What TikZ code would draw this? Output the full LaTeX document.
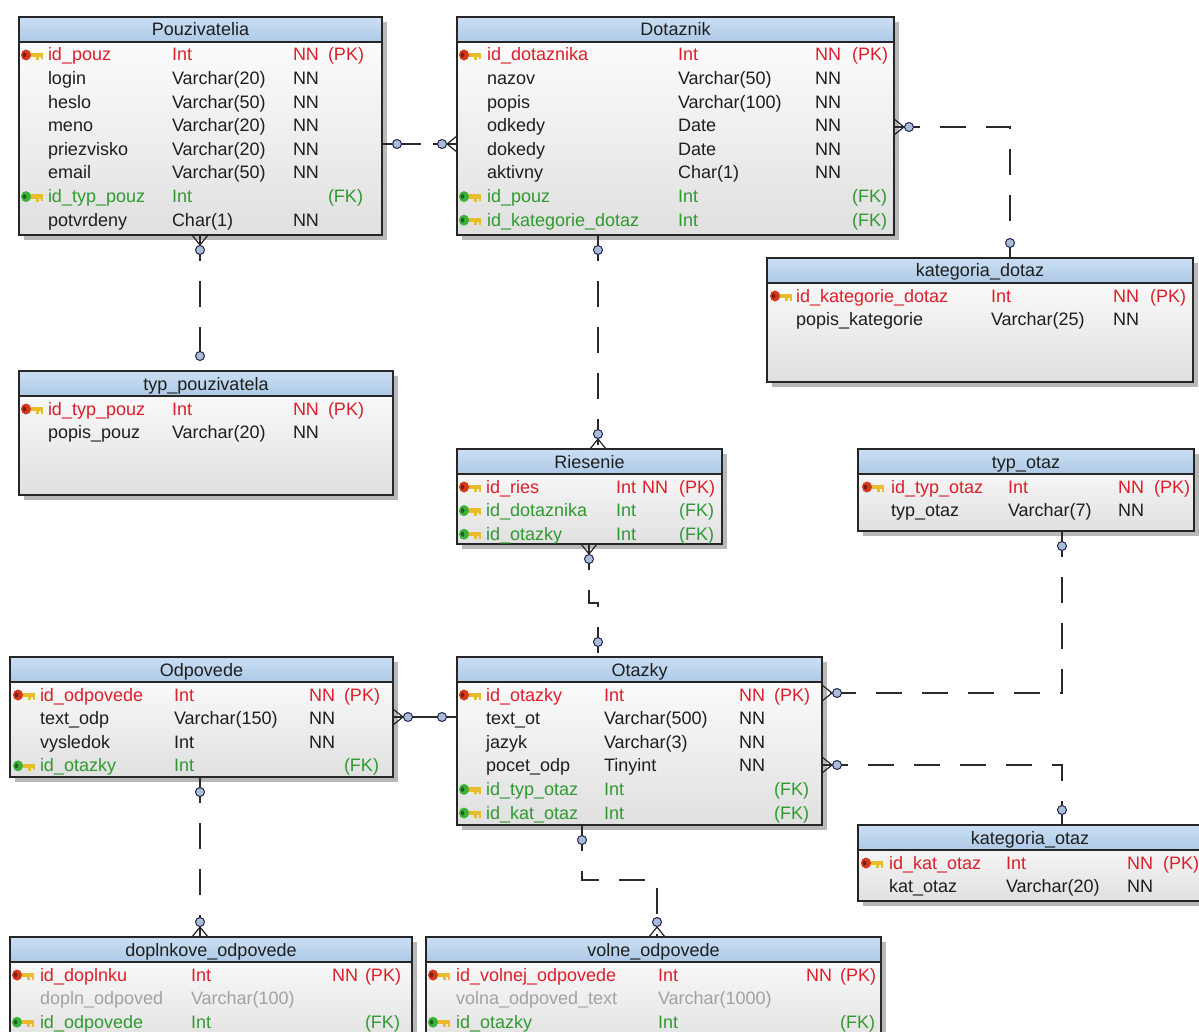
\documentclass[tikz,border=0pt]{standalone}
\usepackage{fontspec}
\setmainfont{Liberation Sans}
\usetikzlibrary{calc}

\definecolor{pkred}{HTML}{DC1F2B}
\definecolor{fkgreen}{HTML}{2F9A2F}
\definecolor{ghosttxt}{HTML}{A2A2A2}
\definecolor{inktxt}{HTML}{1E1E1E}
\definecolor{headtop}{HTML}{CBDFF3}
\definecolor{headbot}{HTML}{ADC9E7}
\definecolor{bodybot}{HTML}{E0E0E0}
\definecolor{tblframe}{HTML}{262626}
\definecolor{shadowgray}{HTML}{B8B8B8}
\definecolor{relink}{HTML}{2A2A2A}
\definecolor{knobfill}{HTML}{A9BDD6}
\definecolor{keygold}{HTML}{E9BC2E}
\definecolor{keyred}{HTML}{D5381C}
\definecolor{keygreen}{HTML}{3AB23A}

\tikzset{
  txt/.style={font=\fontsize{18}{20}\selectfont, inner sep=0pt, outer sep=0pt, anchor=base west},
  kpk/.style={text=pkred},
  kfk/.style={text=fkgreen},
  kn/.style={text=inktxt},
  kg/.style={text=ghosttxt},
  tblbody/.style={rectangle, draw=none, inner sep=0pt, outer sep=0pt,
    top color=white, bottom color=bodybot},
  relline/.style={draw=relink, line width=1.2pt},
  reldash/.style={relline, dash pattern=on 26pt off 20pt},
  knob/.style={draw=relink!80!blue, fill=knobfill, line width=1pt, solid},
  oneend/.pic={\draw[knob] (15,0) circle (4.5pt);},
  manyend/.pic={\draw[relline, solid] (0,-8) -- (10,0) -- (0,8);
                \draw[knob] (15,0) circle (4.5pt);},
  keyicon/.pic={
    \fill[keygold] (7,-2.2) rectangle (22,2.2);
    \fill[keygold] (15,2.2) rectangle (17.5,5);
    \fill[keygold] (19.5,2.2) rectangle (22,4.5);
    \fill[#1] (5,0) ellipse (5pt and 5.5pt);
    \fill[#1!55!black] (3.5,0) ellipse (1.8pt and 2.4pt);
  },
}

% table frame: name, title, left, top, right, bottom (pixel units, y downwards)
\newcommand\ertable[6]{%
  \def\erTop{#4}%
  \fill[shadowgray] (#3+5,#4+5) rectangle (#5+5,#6+5);
  \node[tblbody, minimum width={#5-#3}, minimum height={#6-#4}, anchor=north west] (#1) at (#3,#4) {};
  \shade[top color=headtop, bottom color=headbot] (#1.north west) rectangle ($(#1.north east)+(0,25)$);
  \draw[tblframe, line width=1.4pt] ($(#1.north west)+(0,25)$) -- ($(#1.north east)+(0,25)$);
  \draw[tblframe, line width=1.6pt] (#1.north west) rectangle (#1.south east);
  \node[txt, anchor=base, text=inktxt] (#1-title) at ($(#1.north)+(0,19)$) {#2};
}
% column positions: key icon, name, type, NN, key tag
\newcommand\ercols[5]{\def\erKey{#1}\def\erName{#2}\def\erType{#3}\def\erNN{#4}\def\erTag{#5}}
\def\erkeypk{\pic at (\erKey,\by-6) {keyicon=keyred};}
\def\erkeyfk{\pic at (\erKey,\by-6) {keyicon=keygreen};}
\def\erkeyn{}
\def\erkeyg{}
% one attribute row: table, row number, kind (pk/fk/n/g), name, type, NN, tag
\newcommand\erfield[7]{%
  \pgfmathsetmacro\by{\erTop+44+(#2-1)*23.6}%
  \csname erkey#3\endcsname
  \node[txt, k#3] (#1-#2a) at (\erName,\by) {#4};
  \node[txt, k#3] (#1-#2b) at (\erType,\by) {#5};
  \ifx\relax#6\relax\else\node[txt, k#3] (#1-#2c) at (\erNN,\by) {#6};\fi
  \ifx\relax#7\relax\else\node[txt, k#3] (#1-#2d) at (\erTag,\by) {#7};\fi
}

\begin{document}
\begin{tikzpicture}[x=1pt, y=-1pt]
\useasboundingbox (0,0) rectangle (1199,1032);
\clip (0,0) rectangle (1199,1032);
\fill[white] (0,0) rectangle (1199,1032);

% ---------- tables ----------
\ertable{pouz}{Pouzivatelia}{19}{17}{382}{235}
\ercols{21}{48}{172}{293}{328}
\erfield{pouz}{1}{pk}{id\_pouz}{Int}{NN}{(PK)}
\erfield{pouz}{2}{n}{login}{Varchar(20)}{NN}{}
\erfield{pouz}{3}{n}{heslo}{Varchar(50)}{NN}{}
\erfield{pouz}{4}{n}{meno}{Varchar(20)}{NN}{}
\erfield{pouz}{5}{n}{priezvisko}{Varchar(20)}{NN}{}
\erfield{pouz}{6}{n}{email}{Varchar(50)}{NN}{}
\erfield{pouz}{7}{fk}{id\_typ\_pouz}{Int}{}{(FK)}
\erfield{pouz}{8}{n}{potvrdeny}{Char(1)}{NN}{}

\ertable{dot}{Dotaznik}{457}{17}{894}{235}
\ercols{459}{487}{678}{815}{852}
\erfield{dot}{1}{pk}{id\_dotaznika}{Int}{NN}{(PK)}
\erfield{dot}{2}{n}{nazov}{Varchar(50)}{NN}{}
\erfield{dot}{3}{n}{popis}{Varchar(100)}{NN}{}
\erfield{dot}{4}{n}{odkedy}{Date}{NN}{}
\erfield{dot}{5}{n}{dokedy}{Date}{NN}{}
\erfield{dot}{6}{n}{aktivny}{Char(1)}{NN}{}
\erfield{dot}{7}{fk}{id\_pouz}{Int}{}{(FK)}
\erfield{dot}{8}{fk}{id\_kategorie\_dotaz}{Int}{}{(FK)}

\ertable{katd}{kategoria\_dotaz}{767}{258}{1193}{382}
\ercols{770}{796}{991}{1113}{1150}
\erfield{katd}{1}{pk}{id\_kategorie\_dotaz}{Int}{NN}{(PK)}
\erfield{katd}{2}{n}{popis\_kategorie}{Varchar(25)}{NN}{}

\ertable{typu}{typ\_pouzivatela}{19}{371}{393}{495}
\ercols{21}{48}{172}{293}{328}
\erfield{typu}{1}{pk}{id\_typ\_pouz}{Int}{NN}{(PK)}
\erfield{typu}{2}{n}{popis\_pouz}{Varchar(20)}{NN}{}

\ertable{ries}{Riesenie}{457}{449}{722}{544}
\ercols{459}{486}{616}{642}{679}
\erfield{ries}{1}{pk}{id\_ries}{Int}{NN}{(PK)}
\erfield{ries}{2}{fk}{id\_dotaznika}{Int}{}{(FK)}
\erfield{ries}{3}{fk}{id\_otazky}{Int}{}{(FK)}

\ertable{typo}{typ\_otaz}{858}{449}{1194}{531}
\ercols{862}{891}{1008}{1118}{1154}
\erfield{typo}{1}{pk}{id\_typ\_otaz}{Int}{NN}{(PK)}
\erfield{typo}{2}{n}{typ\_otaz}{Varchar(7)}{NN}{}

\ertable{odp}{Odpovede}{10}{657}{393}{777}
\ercols{13}{40}{174}{309}{344}
\erfield{odp}{1}{pk}{id\_odpovede}{Int}{NN}{(PK)}
\erfield{odp}{2}{n}{text\_odp}{Varchar(150)}{NN}{}
\erfield{odp}{3}{n}{vysledok}{Int}{NN}{}
\erfield{odp}{4}{fk}{id\_otazky}{Int}{}{(FK)}

\ertable{otaz}{Otazky}{457}{657}{822}{825}
\ercols{459}{486}{604}{739}{774}
\erfield{otaz}{1}{pk}{id\_otazky}{Int}{NN}{(PK)}
\erfield{otaz}{2}{n}{text\_ot}{Varchar(500)}{NN}{}
\erfield{otaz}{3}{n}{jazyk}{Varchar(3)}{NN}{}
\erfield{otaz}{4}{n}{pocet\_odp}{Tinyint}{NN}{}
\erfield{otaz}{5}{fk}{id\_typ\_otaz}{Int}{}{(FK)}
\erfield{otaz}{6}{fk}{id\_kat\_otaz}{Int}{}{(FK)}

\ertable{kato}{kategoria\_otaz}{858}{825}{1202}{901}
\ercols{861}{889}{1006}{1127}{1163}
\erfield{kato}{1}{pk}{id\_kat\_otaz}{Int}{NN}{(PK)}
\erfield{kato}{2}{n}{kat\_otaz}{Varchar(20)}{NN}{}

\ertable{dopl}{doplnkove\_odpovede}{10}{937}{412}{1050}
\ercols{12}{40}{191}{332}{365}
\erfield{dopl}{1}{pk}{id\_doplnku}{Int}{NN}{(PK)}
\erfield{dopl}{2}{g}{dopln\_odpoved}{Varchar(100)}{}{}
\erfield{dopl}{3}{fk}{id\_odpovede}{Int}{}{(FK)}

\ertable{voln}{volne\_odpovede}{426}{937}{881}{1050}
\ercols{428}{456}{658}{806}{840}
\erfield{voln}{1}{pk}{id\_volnej\_odpovede}{Int}{NN}{(PK)}
\erfield{voln}{2}{g}{volna\_odpoved\_text}{Varchar(1000)}{}{}
\erfield{voln}{3}{fk}{id\_otazky}{Int}{}{(FK)}

% ---------- relationships ----------
\coordinate (r1a) at ([yshift=-127pt]pouz.north east);
\coordinate (r1b) at ([yshift=-127pt]dot.north west);
\draw[relline, dash pattern=on 39pt off 12pt] (r1a) -- (r1b);
\pic at (r1a) {oneend};
\pic[rotate=180] at (r1b) {manyend};

\coordinate (r2a) at ([yshift=-110pt]dot.north east);
\coordinate (r2b) at ([xshift=243pt]katd.north west);
\draw[reldash] (r2a) -| (r2b);
\pic at (r2a) {manyend};
\pic[rotate=90] at (r2b) {oneend};

\coordinate (r3a) at ([xshift=181pt]pouz.south west);
\coordinate (r3b) at ([xshift=181pt]typu.north west);
\draw[reldash] (r3a) -- (r3b);
\pic[rotate=-90] at (r3a) {manyend};
\pic[rotate=90] at (r3b) {oneend};

\coordinate (r4a) at ([xshift=141pt]dot.south west);
\coordinate (r4b) at ([xshift=141pt]ries.north west);
\draw[reldash] (r4a) -- (r4b);
\pic[rotate=-90] at (r4a) {oneend};
\pic[rotate=90] at (r4b) {manyend};

\coordinate (r5a) at ([xshift=132pt]ries.south west);
\coordinate (r5b) at ([xshift=141pt]otaz.north west);
\draw[reldash] (r5a) -- ++(0,59) -| (r5b);
\pic[rotate=-90] at (r5a) {manyend};
\pic[rotate=90] at (r5b) {oneend};

\coordinate (r6a) at ([xshift=204pt]typo.south west);
\coordinate (r6b) at ([yshift=-36pt]otaz.north east);
\draw[reldash] (r6a) |- (r6b);
\pic[rotate=-90] at (r6a) {oneend};
\pic at (r6b) {manyend};

\coordinate (r7a) at ([yshift=-108pt]otaz.north east);
\coordinate (r7b) at ([xshift=204pt]kato.north west);
\draw[reldash] (r7a) -| (r7b);
\pic at (r7a) {manyend};
\pic[rotate=90] at (r7b) {oneend};

\coordinate (r8a) at ([yshift=-60pt]odp.north east);
\coordinate (r8b) at ([yshift=-60pt]otaz.north west);
\draw[relline] (r8a) -- (r8b);
\pic at (r8a) {manyend};
\pic[rotate=180] at (r8b) {oneend};

\coordinate (r9a) at ([xshift=190pt]odp.south west);
\coordinate (r9b) at ([xshift=190pt]dopl.north west);
\draw[reldash] (r9a) -- (r9b);
\pic[rotate=-90] at (r9a) {oneend};
\pic[rotate=90] at (r9b) {manyend};

\coordinate (r10a) at ([xshift=125pt]otaz.south west);
\coordinate (r10b) at ([xshift=231pt]voln.north west);
\draw[reldash] (r10a) -- ++(0,55) -| (r10b);
\pic[rotate=-90] at (r10a) {oneend};
\pic[rotate=90] at (r10b) {manyend};
\end{tikzpicture}
\end{document}
